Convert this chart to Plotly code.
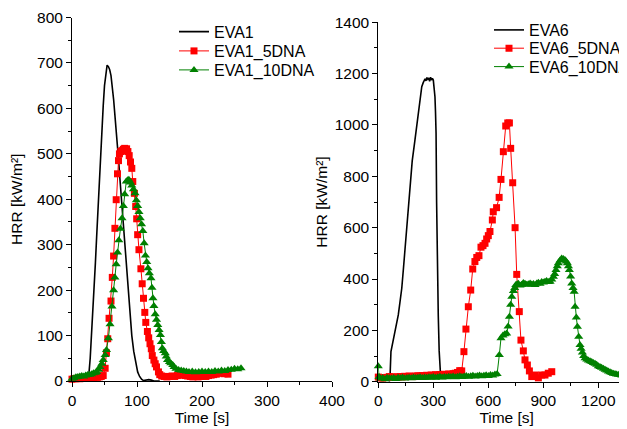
import plotly.graph_objects as go

# ---------------- Left panel (EVA1 series) ----------------
eva1_t = [0, 10, 20, 24, 26, 28, 30, 32, 34, 36, 38, 40, 42, 44, 46, 48, 50, 52, 54, 56,
          58, 60, 62, 64, 66, 68, 70, 72, 74, 76, 78, 80, 83, 86, 89, 92, 95, 98, 101, 104,
          107, 110, 114, 118, 122, 126, 135]
eva1_v = [0, 0, 1, 3, 15, 50, 100, 140, 200, 260, 320, 380, 450, 510, 560, 605, 650, 680, 695, 692,
          685, 672, 650, 620, 585, 555, 520, 480, 440, 400, 370, 335, 275, 210, 150, 100, 65, 38, 20, 10,
          4, 1, 2, 3, 2, 0, 0]

eva1_5_t = [0, 3, 6, 9, 12, 15, 18, 21, 24, 27, 30, 33, 36, 39, 42, 45, 48,
            51, 53, 55, 57, 60, 62, 64, 66, 68, 70, 71.5, 73, 75, 77, 79, 81, 84, 86, 88, 90, 92,
            93.5, 96, 98, 99.5, 101, 103, 106, 108, 110, 112, 113.5, 116, 118, 120, 122, 123.5,
            126, 128, 130, 133, 135, 138, 142, 146, 150, 154, 158, 162, 166, 170, 174, 178, 182,
            186, 190, 194, 198, 202, 206, 210, 214, 218, 222, 226, 230, 234, 238, 240]
eva1_5_v = [4, 5, 5, 6, 5, 6, 7, 6, 7, 8, 7, 8, 9, 8, 9, 10, 12,
            28, 62, 93, 138, 176, 228, 275, 336, 399, 456, 485, 500, 505, 507, 510, 512, 511, 505, 496, 482, 468,
            439, 413, 384, 357, 322, 289, 247, 214, 182, 151, 129, 109, 95, 82, 71, 56,
            46, 38, 31, 20, 14, 11, 10, 9, 10, 11, 10, 12, 13, 14, 12, 11, 10,
            9, 10, 9, 10, 11, 10, 12, 13, 14, 15, 17, 18, 16, 17, 15]

eva1_10_t = [0, 3, 6, 9, 12, 15, 18, 21, 24, 27, 30, 33, 36, 38, 41, 43, 46, 48, 51, 53, 56, 58.5,
             61.5, 64, 66, 68, 70, 72, 74.5, 77, 79, 81, 83.5, 85.5, 87.5, 90, 92, 94.5, 97, 99,
             101, 103, 105, 107, 109, 111, 113, 115, 117, 119, 121.5, 123, 124.5, 126, 128, 130,
             132, 134, 136, 137.5, 139, 141, 143.5, 145, 147, 150, 152, 155, 157, 160, 164, 168,
             172, 176, 180, 185, 190, 195, 200, 205, 210, 215, 220, 225, 230, 235, 240, 245, 250,
             255, 260]
eva1_10_v = [5, 6, 8, 9, 10, 11, 10, 12, 13, 14, 15, 17, 18, 20, 25, 31, 38, 46, 57, 68, 94, 125,
             164, 200, 228, 257, 283, 310, 335, 358, 385, 411, 439, 442, 443, 437, 430, 422, 413, 398,
             385, 372, 358, 345, 330, 303, 276, 262, 248, 237, 226, 205, 182, 165, 147, 135,
             123, 112, 101, 86, 72, 66, 61, 54, 46, 42, 39, 35, 31, 27, 24, 23,
             22, 21, 20, 21, 19, 20, 21, 20, 21, 20, 22, 21, 23, 22, 24, 25, 27,
             26, 28]

# ---------------- Right panel (EVA6 series) ----------------
eva6_t = [60, 64, 69, 80, 95, 109, 120, 128, 137, 146, 152, 158, 165, 173, 185, 200, 210, 218, 228,
          237, 245, 250, 255, 260, 265, 270, 275, 280, 285, 290, 295, 300, 305, 309, 312, 315, 318,
          322, 327, 332, 337, 340]
eva6_v = [0, 20, 117, 160, 220, 260, 320, 364, 440, 520, 590, 656, 710, 773, 860, 942, 1000, 1058, 1110,
          1149, 1165, 1175, 1180, 1172, 1185, 1178, 1183, 1170, 1186, 1175, 1182, 1175, 1150, 1110, 1050, 968, 700,
          450, 260, 120, 33, 20]

eva6_5_t = [0, 12, 24, 36, 48, 60, 72, 84, 96, 108, 120, 132, 144, 156, 168, 180, 192, 204, 216, 228,
            240, 252, 264, 276, 288, 300, 312, 324, 336, 348, 360, 372, 384, 396, 408, 420, 432, 444,
            455, 467, 478, 491, 504, 515, 527, 537, 549, 560, 571, 582, 591, 600, 609, 622, 627, 645,
            659, 669, 682, 695, 706, 715, 722, 733, 746, 755, 769, 778, 791, 800, 813, 824, 837, 855,
            873, 891, 909, 927, 946]
eva6_5_v = [18, 15, 14, 16, 17, 20, 18, 17, 19, 18, 20, 19, 21, 20, 22, 21, 20, 22, 23, 22,
            24, 23, 25, 24, 26, 25, 27, 26, 28, 27, 29, 28, 30, 29, 31, 33, 36, 43,
            42, 117, 205, 292, 357, 439, 468, 484, 491, 524, 530, 539, 556, 569, 585, 630, 662, 678,
            718, 788, 896, 996, 1008, 1008, 909, 775, 600, 418, 273, 162, 120, 85, 65, 42, 20, 26,
            15, 26, 26, 33, 39]

eva6_10_t = [0, 4, 12, 24, 36, 48, 60, 72, 84, 96, 108, 120, 132, 144, 156, 168, 180, 192, 204, 216,
             228, 240, 252, 264, 276, 288, 300, 312, 324, 336, 348, 360, 372, 384, 396, 408, 420, 432,
             444, 456, 468, 480, 492, 504, 516, 528, 540, 552, 564, 576, 588, 600, 612, 624, 636, 648,
             660, 669, 680, 690, 700, 708, 715, 722, 728, 737, 744, 750, 757, 764, 773, 782, 791, 800,
             809, 818, 828, 837, 846, 855, 864, 873, 882, 891, 900, 909, 918, 928, 937, 946, 955, 962,
             969, 976, 982, 991, 1000, 1009, 1018, 1025, 1031, 1037, 1042, 1049, 1055, 1062, 1068,
             1073, 1080, 1086, 1093, 1100, 1106, 1113, 1120, 1128, 1137, 1146, 1155, 1164, 1173, 1182,
             1191, 1200, 1209, 1218, 1228, 1237, 1246, 1255, 1264, 1273, 1282, 1291, 1300, 1310, 1319,
             1328, 1337, 1346, 1355, 1364]
eva6_10_v = [60, 18, 12, 14, 10, 15, 13, 12, 14, 11, 15, 13, 16, 12, 14, 15, 13, 16, 14, 15,
             17, 14, 16, 15, 17, 16, 18, 15, 17, 19, 16, 18, 17, 19, 18, 20, 17, 19,
             21, 18, 20, 22, 19, 21, 23, 20, 22, 24, 21, 23, 25, 22, 26, 24, 28, 30,
             104, 169, 180, 185, 188, 215, 253, 300, 331, 353, 365, 377, 380, 382, 375, 378, 384, 382,
             378, 380, 383, 379, 381, 377, 383, 385, 382, 388, 386, 389, 392, 388, 389, 398, 409, 420,
             435, 450, 461, 472, 480, 478, 474, 468, 461, 450, 435, 410, 383, 365, 350,
             292, 250, 214, 175, 143, 128, 114, 100, 91, 86, 83, 80, 77, 73, 70,
             66, 60, 57, 54, 50, 47, 44, 40, 37, 34, 31, 30, 28, 27, 26,
             24, 22, 20, 19, 18]

FONT = "Liberation Sans, Arial, sans-serif"

fig = go.Figure()

fig.add_trace(go.Scatter(x=eva1_t, y=eva1_v, name="EVA1", mode="lines",
                         line=dict(color="black", width=1.6), xaxis="x", yaxis="y", legend="legend"))
fig.add_trace(go.Scatter(x=eva1_5_t, y=eva1_5_v, name="EVA1_5DNA", mode="lines+markers",
                         line=dict(color="#ff0000", width=1),
                         marker=dict(symbol="square", size=7, color="#ff0000"),
                         cliponaxis=False, xaxis="x", yaxis="y", legend="legend2"))
fig.add_trace(go.Scatter(x=eva1_10_t, y=eva1_10_v, name="EVA1_10DNA", mode="lines+markers",
                         line=dict(color="#008000", width=1),
                         marker=dict(symbol="triangle-up", size=8, color="#008000"),
                         cliponaxis=False, xaxis="x", yaxis="y", legend="legend3"))

fig.add_trace(go.Scatter(x=eva6_t, y=eva6_v, name="EVA6", mode="lines",
                         line=dict(color="black", width=1.6), xaxis="x2", yaxis="y2", legend="legend4"))
fig.add_trace(go.Scatter(x=eva6_5_t, y=eva6_5_v, name="EVA6_5DNA", mode="lines+markers",
                         line=dict(color="#ff0000", width=1),
                         marker=dict(symbol="square", size=7, color="#ff0000"),
                         cliponaxis=False, xaxis="x2", yaxis="y2", legend="legend5"))
fig.add_trace(go.Scatter(x=eva6_10_t, y=eva6_10_v, name="EVA6_10DNA", mode="lines+markers",
                         line=dict(color="#008000", width=1),
                         marker=dict(symbol="triangle-up", size=8, color="#008000"),
                         cliponaxis=False, xaxis="x2", yaxis="y2", legend="legend6"))

W, H = 627, 429
TICKFONT = dict(size=15.5, family=FONT, color="black")

def ax(domain, rng, dtick, minor, anchor, title, standoff):
    return dict(domain=domain, range=rng, dtick=dtick, tick0=0, ticks="outside", ticklen=5,
                tickwidth=1, tickcolor="black", showline=True, linecolor="black", linewidth=1,
                showgrid=False, zeroline=False, anchor=anchor, automargin=False,
                minor=dict(dtick=minor, tick0=0, ticks="outside", ticklen=3, tickwidth=1,
                           tickcolor="black", showgrid=False),
                title=dict(text=title, font=dict(size=15.5, family=FONT, color="black"),
                           standoff=standoff),
                tickfont=TICKFONT)

def leg(x_px, yc_px):
    return dict(x=x_px / W, y=1 - yc_px / H, xanchor="left", yanchor="middle",
                bgcolor="rgba(0,0,0,0)", font=dict(size=16, family=FONT, color="black"),
                tracegroupgap=0)

# the page body adds an 8px offset, so positions below are the reference's minus 8px
fig.update_layout(
    width=W, height=H,
    margin=dict(l=0, r=0, t=0, b=0, pad=0, autoexpand=False),
    paper_bgcolor="white", plot_bgcolor="white",
    font=dict(family=FONT, size=15.5, color="black"),
    xaxis=ax([64 / W, 324 / W], [0, 400], 100, 50, "y", "Time [s]", 2),
    yaxis=ax([56 / H, 419.5 / H], [0, 800], 100, 50, "x", "HRR [kW/m²]", 16),
    xaxis2=ax([370.3 / W, 1.0], [0, 1400], 300, 150, "y2", "Time [s]", 2),
    yaxis2=ax([55.3 / H, 414.7 / H], [0, 1400], 200, 100, "x2", "HRR [kW/m²]", 3),
    legend=leg(166, 23.7),
    legend2=leg(166, 43),
    legend3=leg(166, 62),
    legend4=leg(481, 22),
    legend5=leg(481, 40.3),
    legend6=leg(481, 58.7),
    showlegend=True,
)

fig.write_html("out.html")
